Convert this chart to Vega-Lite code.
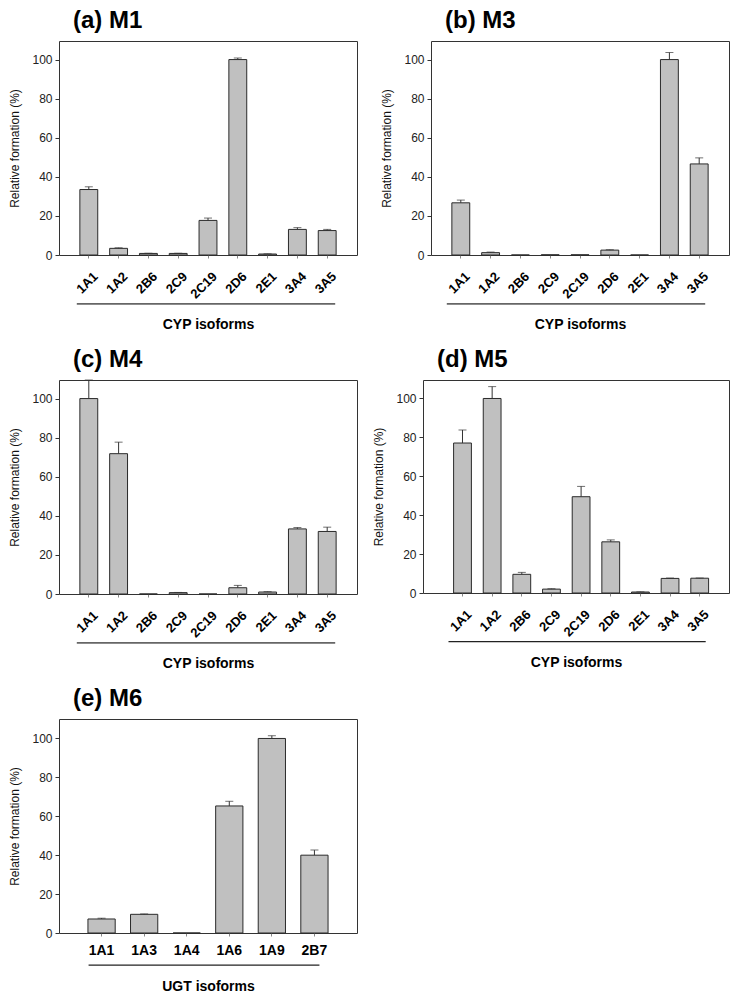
{
  "$schema": "https://vega.github.io/schema/vega-lite/v6.json",
  "padding": {"left": 8, "top": 8, "right": 5, "bottom": 2},
  "background": "white",
  "datasets": {
    "m1": [
      {"iso": "1A1", "v": 33.5, "hi": 34.9},
      {"iso": "1A2", "v": 3.4, "hi": 3.7},
      {"iso": "2B6", "v": 0.8, "hi": 0.9},
      {"iso": "2C9", "v": 0.8, "hi": 0.9},
      {"iso": "2C19", "v": 17.7, "hi": 18.9},
      {"iso": "2D6", "v": 100, "hi": 100.8},
      {"iso": "2E1", "v": 0.5, "hi": 0.6},
      {"iso": "3A4", "v": 13.1, "hi": 14.0},
      {"iso": "3A5", "v": 12.5, "hi": 13.1}
    ],
    "m3": [
      {"iso": "1A1", "v": 26.7, "hi": 28.1},
      {"iso": "1A2", "v": 1.2, "hi": 1.5},
      {"iso": "2B6", "v": 0, "hi": 0},
      {"iso": "2C9", "v": 0.1, "hi": 0.1},
      {"iso": "2C19", "v": 0.1, "hi": 0.1},
      {"iso": "2D6", "v": 2.5, "hi": 2.7},
      {"iso": "2E1", "v": 0, "hi": 0},
      {"iso": "3A4", "v": 100, "hi": 103.6},
      {"iso": "3A5", "v": 46.6, "hi": 49.7}
    ],
    "m4": [
      {"iso": "1A1", "v": 100, "hi": 109.5},
      {"iso": "1A2", "v": 71.8, "hi": 77.7},
      {"iso": "2B6", "v": 0, "hi": 0},
      {"iso": "2C9", "v": 0.7, "hi": 0.8},
      {"iso": "2C19", "v": 0, "hi": 0},
      {"iso": "2D6", "v": 3.2, "hi": 4.4},
      {"iso": "2E1", "v": 1.0, "hi": 1.2},
      {"iso": "3A4", "v": 33.3, "hi": 34.0},
      {"iso": "3A5", "v": 32.0, "hi": 34.2}
    ],
    "m5": [
      {"iso": "1A1", "v": 77.1, "hi": 83.8},
      {"iso": "1A2", "v": 100, "hi": 106.1},
      {"iso": "2B6", "v": 9.6, "hi": 10.6},
      {"iso": "2C9", "v": 2.0, "hi": 2.2},
      {"iso": "2C19", "v": 49.5, "hi": 54.8},
      {"iso": "2D6", "v": 26.3, "hi": 27.3},
      {"iso": "2E1", "v": 0.5, "hi": 0.6},
      {"iso": "3A4", "v": 7.5, "hi": 7.7},
      {"iso": "3A5", "v": 7.6, "hi": 7.7}
    ],
    "m6": [
      {"iso": "1A1", "v": 7.2, "hi": 7.6},
      {"iso": "1A3", "v": 9.6, "hi": 9.8},
      {"iso": "1A4", "v": 0, "hi": 0},
      {"iso": "1A6", "v": 65.3, "hi": 67.7},
      {"iso": "1A9", "v": 100, "hi": 101.4},
      {"iso": "2B7", "v": 40.0, "hi": 42.6}
    ]
  },
  "config": {
    "font": "Liberation Sans",
    "view": {"stroke": "#333", "strokeWidth": 1},
    "axis": {"grid": false, "domain": false, "tickColor": "#333", "labelColor": "#222", "titleColor": "#111"},
    "axisY": {"values": [0, 20, 40, 60, 80, 100], "labelFontSize": 12, "tickSize": 4, "labelPadding": 3, "titleFontSize": 12, "titleFontWeight": "normal", "titlePadding": 10},
    "axisX": {"labelFontSize": 13, "labelFontWeight": "bold", "labelColor": "#000", "labelAngle": -45, "labelAlign": "right", "labelBaseline": "middle", "labelOffset": 7, "labelPadding": 16, "tickSize": 3, "tickColor": "#888", "titleFontSize": 14, "titleFontWeight": "bold", "titleColor": "#000", "titleBaseline": "alphabetic", "titleY": 73},
    "title": {"anchor": "start", "frame": "group", "fontSize": 24, "fontWeight": "bold", "color": "#000", "dx": 14, "offset": 8}
  },
  "vconcat": [
    {
      "hconcat": [
        {
          "data": {"name": "m1"},
          "width": 298, "height": 214,
          "title": {"text": "(a) M1"},
          "encoding": {"x": {"field": "iso", "type": "nominal", "sort": null, "title": "CYP isoforms", "scale": {"paddingInner": 0.4, "paddingOuter": 0.7}}},
          "layer": [
            {"mark": {"type": "bar", "fill": "#c0c0c0", "stroke": "#2a2a2a", "strokeWidth": 1}, "encoding": {"y": {"field": "v", "type": "quantitative", "title": "Relative formation (%)", "scale": {"domain": [0, 109.5], "nice": false}}}},
            {"transform": [{"filter": "datum.hi > datum.v"}], "mark": {"type": "rule", "color": "#333"}, "encoding": {"y": {"field": "hi", "type": "quantitative", "title": "Relative formation (%)"}, "y2": {"field": "v"}}},
            {"transform": [{"filter": "datum.hi > datum.v"}], "mark": {"type": "tick", "orient": "horizontal", "size": 8, "thickness": 1, "color": "#333"}, "encoding": {"y": {"field": "hi", "type": "quantitative", "title": "Relative formation (%)"}}},
            {"data": {"values": [{}]}, "mark": {"type": "rule", "color": "#666", "strokeWidth": 1.6, "xOffset": -12, "x2Offset": 8}, "encoding": {"x": {"datum": "1A1"}, "x2": {"datum": "3A5"}, "y": {"datum": -25, "type": "quantitative", "title": "Relative formation (%)"}}}
          ]
        },
        {
          "data": {"name": "m3"},
          "width": 298, "height": 214,
          "title": {"text": "(b) M3"},
          "encoding": {"x": {"field": "iso", "type": "nominal", "sort": null, "title": "CYP isoforms", "scale": {"paddingInner": 0.4, "paddingOuter": 0.7}}},
          "layer": [
            {"mark": {"type": "bar", "fill": "#c0c0c0", "stroke": "#2a2a2a", "strokeWidth": 1}, "encoding": {"y": {"field": "v", "type": "quantitative", "title": "Relative formation (%)", "scale": {"domain": [0, 109.5], "nice": false}}}},
            {"transform": [{"filter": "datum.hi > datum.v"}], "mark": {"type": "rule", "color": "#333"}, "encoding": {"y": {"field": "hi", "type": "quantitative", "title": "Relative formation (%)"}, "y2": {"field": "v"}}},
            {"transform": [{"filter": "datum.hi > datum.v"}], "mark": {"type": "tick", "orient": "horizontal", "size": 8, "thickness": 1, "color": "#333"}, "encoding": {"y": {"field": "hi", "type": "quantitative", "title": "Relative formation (%)"}}},
            {"data": {"values": [{}]}, "mark": {"type": "rule", "color": "#666", "strokeWidth": 1.6, "xOffset": -14, "x2Offset": 6}, "encoding": {"x": {"datum": "1A1"}, "x2": {"datum": "3A5"}, "y": {"datum": -25, "type": "quantitative", "title": "Relative formation (%)"}}}
          ]
        }
      ],
      "spacing": 22
    },
    {
      "hconcat": [
        {
          "data": {"name": "m4"},
          "width": 298, "height": 214,
          "title": {"text": "(c) M4"},
          "encoding": {"x": {"field": "iso", "type": "nominal", "sort": null, "title": "CYP isoforms", "scale": {"paddingInner": 0.4, "paddingOuter": 0.7}}},
          "layer": [
            {"mark": {"type": "bar", "fill": "#c0c0c0", "stroke": "#2a2a2a", "strokeWidth": 1}, "encoding": {"y": {"field": "v", "type": "quantitative", "title": "Relative formation (%)", "scale": {"domain": [0, 109.5], "nice": false}}}},
            {"transform": [{"filter": "datum.hi > datum.v"}], "mark": {"type": "rule", "color": "#333"}, "encoding": {"y": {"field": "hi", "type": "quantitative", "title": "Relative formation (%)"}, "y2": {"field": "v"}}},
            {"transform": [{"filter": "datum.hi > datum.v"}], "mark": {"type": "tick", "orient": "horizontal", "size": 8, "thickness": 1, "color": "#333"}, "encoding": {"y": {"field": "hi", "type": "quantitative", "title": "Relative formation (%)"}}},
            {"data": {"values": [{}]}, "mark": {"type": "rule", "color": "#666", "strokeWidth": 1.6, "xOffset": -12, "x2Offset": 8}, "encoding": {"x": {"datum": "1A1"}, "x2": {"datum": "3A5"}, "y": {"datum": -25, "type": "quantitative", "title": "Relative formation (%)"}}}
          ]
        },
        {
          "data": {"name": "m5"},
          "width": 306, "height": 213,
          "title": {"text": "(d) M5"},
          "encoding": {"x": {"field": "iso", "type": "nominal", "sort": null, "title": "CYP isoforms", "scale": {"paddingInner": 0.4, "paddingOuter": 0.86, "align": 0.6}}},
          "layer": [
            {"mark": {"type": "bar", "fill": "#c0c0c0", "stroke": "#2a2a2a", "strokeWidth": 1}, "encoding": {"y": {"field": "v", "type": "quantitative", "title": "Relative formation (%)", "scale": {"domain": [0, 109.5], "nice": false}}}},
            {"transform": [{"filter": "datum.hi > datum.v"}], "mark": {"type": "rule", "color": "#333"}, "encoding": {"y": {"field": "hi", "type": "quantitative", "title": "Relative formation (%)"}, "y2": {"field": "v"}}},
            {"transform": [{"filter": "datum.hi > datum.v"}], "mark": {"type": "tick", "orient": "horizontal", "size": 8, "thickness": 1, "color": "#333"}, "encoding": {"y": {"field": "hi", "type": "quantitative", "title": "Relative formation (%)"}}},
            {"data": {"values": [{}]}, "mark": {"type": "rule", "color": "#222", "strokeWidth": 1.2, "xOffset": -14, "x2Offset": 6}, "encoding": {"x": {"datum": "1A1"}, "x2": {"datum": "3A5"}, "y": {"datum": -25, "type": "quantitative", "title": "Relative formation (%)"}}}
          ]
        }
      ],
      "spacing": 14
    },
    {
      "data": {"name": "m6"},
      "width": 298, "height": 214,
      "title": {"text": "(e) M6"},
      "encoding": {"x": {"field": "iso", "type": "nominal", "sort": null, "title": "UGT isoforms", "scale": {"paddingInner": 0.36, "paddingOuter": 0.68}, "axis": {"labelAngle": 0, "labelAlign": "center", "labelBaseline": "top", "labelOffset": 0, "labelFontSize": 14, "labelPadding": 7, "titleY": 57}}},
      "layer": [
        {"mark": {"type": "bar", "fill": "#c0c0c0", "stroke": "#2a2a2a", "strokeWidth": 1}, "encoding": {"y": {"field": "v", "type": "quantitative", "title": "Relative formation (%)", "scale": {"domain": [0, 110], "nice": false}}}},
        {"transform": [{"filter": "datum.hi > datum.v"}], "mark": {"type": "rule", "color": "#333"}, "encoding": {"y": {"field": "hi", "type": "quantitative", "title": "Relative formation (%)"}, "y2": {"field": "v"}}},
        {"transform": [{"filter": "datum.hi > datum.v"}], "mark": {"type": "tick", "orient": "horizontal", "size": 8, "thickness": 1, "color": "#333"}, "encoding": {"y": {"field": "hi", "type": "quantitative", "title": "Relative formation (%)"}}},
        {"data": {"values": [{}]}, "mark": {"type": "rule", "color": "#222", "strokeWidth": 1.2, "xOffset": -13, "x2Offset": 5}, "encoding": {"x": {"datum": "1A1"}, "x2": {"datum": "2B7"}, "y": {"datum": -16.5, "type": "quantitative", "title": "Relative formation (%)"}}}
      ]
    }
  ],
  "spacing": 15
}
